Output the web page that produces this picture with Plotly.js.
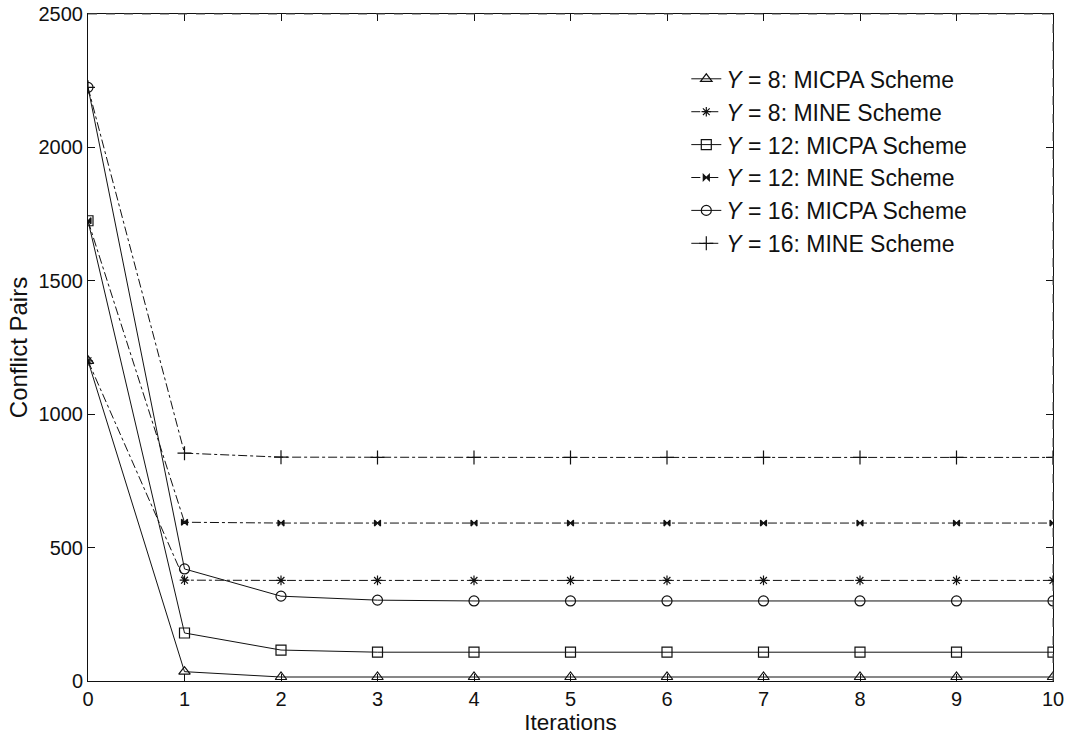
<!DOCTYPE html>
<html>
<head>
<meta charset="utf-8">
<script src="https://cdn.plot.ly/plotly-3.0.1.min.js"></script>
<style>html,body{margin:0;padding:0;background:#fff;}#chart{width:1067px;height:736px;}</style>
</head>
<body>
<div id="chart"></div>
<script>
const iterations = [0,1,2,3,4,5,6,7,8,9,10];
const y8_micpa  = [1200, 35, 15, 15, 15, 15, 15, 15, 15, 15, 15];
const y8_mine   = [1200, 378, 377, 377, 377, 377, 377, 377, 377, 377, 377];
const y12_micpa = [1725, 180, 116, 108, 108, 108, 108, 108, 108, 108, 108];
const y12_mine  = [1725, 595, 592, 592, 592, 592, 592, 592, 592, 592, 592];
const y16_micpa = [2225, 420, 318, 303, 300, 300, 300, 300, 300, 300, 300];
const y16_mine  = [2225, 854, 839, 838, 838, 838, 838, 838, 838, 838, 838];
const names = [
  "<i>Y</i> = 8: MICPA Scheme",
  "<i>Y</i> = 8: MINE Scheme",
  "<i>Y</i> = 12: MICPA Scheme",
  "<i>Y</i> = 12: MINE Scheme",
  "<i>Y</i> = 16: MICPA Scheme",
  "<i>Y</i> = 16: MINE Scheme"
];
const series = [y8_micpa, y8_mine, y12_micpa, y12_mine, y16_micpa, y16_mine];
const symbols = ["triangle-up-open","asterisk-open","square-open","bowtie","circle-open","cross-thin-open"];
const sizes = [10, 8, 10, 6, 10, 10];
const dashes = ["solid","dashdot","solid","dashdot","solid","dashdot"];

const traces = series.map((ys, i) => ({
  x: iterations, y: ys, name: names[i], type: "scatter", mode: "lines+markers",
  line: {color: "#111", width: 1, dash: dashes[i]},
  marker: {symbol: symbols[i], size: sizes[i], color: "#111", line: {color: "#111", width: 1.2}}
}));

const layout = {
  width: 1067, height: 736,
  margin: {l: 88, r: 14, t: 14, b: 55},
  paper_bgcolor: "#fff", plot_bgcolor: "#fff",
  font: {family: "Liberation Sans, Arial, sans-serif", size: 20, color: "#111"},
  showlegend: true,
  legend: {x: 0.62, y: 0.935, xanchor: "left", yanchor: "top", bgcolor: "rgba(0,0,0,0)",
           borderwidth: 0, font: {size: 23, color: "#111"}, tracegroupgap: 0},
  xaxis: {range: [0, 10], tickvals: iterations, ticks: "inside", ticklen: 7, tickcolor: "#111",
          showgrid: false, zeroline: false, showline: true, linecolor: "#111", linewidth: 1,
          mirror: "ticks", title: {text: "Iterations", font: {size: 22.5}, standoff: 2},
          tickfont: {size: 20}},
  yaxis: {range: [0, 2500], tickvals: [0,500,1000,1500,2000,2500], ticks: "inside", ticklen: 7,
          tickcolor: "#111", showgrid: false, zeroline: false, showline: true, linecolor: "#111",
          linewidth: 1, mirror: "ticks", title: {text: "Conflict Pairs", font: {size: 24}, standoff: 4},
          tickfont: {size: 20}},
  shapes: [
    {type: "line", xref: "paper", yref: "paper", x0: 0, x1: 1, y0: 1, y1: 1,
     line: {color: "#555", width: 1, dash: "dash"}},
    {type: "line", xref: "paper", yref: "paper", x0: 1, x1: 1, y0: 0, y1: 1,
     line: {color: "#555", width: 1, dash: "dash"}}
  ]
};
Plotly.newPlot("chart", traces, layout, {displayModeBar: false, staticPlot: true});
</script>
</body>
</html>
